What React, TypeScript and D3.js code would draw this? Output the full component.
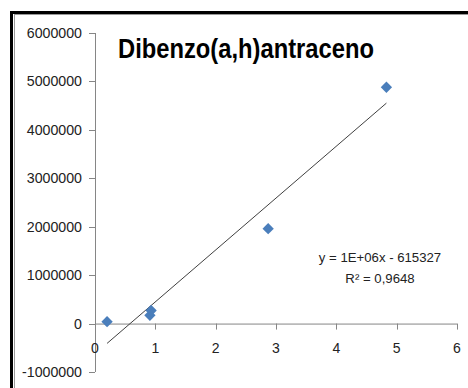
import React from "react";
import * as d3 from "d3";

const xValues = [0.2, 0.91, 0.93, 2.87, 4.83];
const yValues = [40000, 170000, 270000, 1960000, 4880000];
const xTicks = [0, 1, 2, 3, 4, 5, 6];
const yTicks = [-1000000, 0, 1000000, 2000000, 3000000, 4000000, 5000000, 6000000];
const title = "Dibenzo(a,h)antraceno";
const eqLabel = "y = 1E+06x - 615327";
const r2Label = "R² = 0,9648";

const W = 468;
const H = 388;

export default function App() {
  const x = d3.scaleLinear().domain([0, 6]).range([95, 457]);
  const y = d3.scaleLinear().domain([-1000000, 6000000]).range([372, 33]);

  const mx = d3.mean(xValues) as number;
  const my = d3.mean(yValues) as number;
  let sxx = 0, sxy = 0;
  xValues.forEach((v, i) => {
    sxx += (v - mx) * (v - mx);
    sxy += (v - mx) * (yValues[i] - my);
  });
  const slope = sxy / sxx;
  const intercept = my - slope * mx;
  const x0 = d3.min(xValues) as number;
  const x1 = d3.max(xValues) as number;
  const line = d3.line<number>()
    .x((d) => x(d))
    .y((d) => y(slope * d + intercept));

  const sym = d3.symbol().type(d3.symbolSquare).size(64)();
  const font = "'Liberation Sans', Arial, sans-serif";
  const axisColor = "#868686";

  return (
    <svg width={W} height={H} style={{ position: "absolute", left: 0, top: 0, background: "#fff" }}>
      <rect x={0} y={0} width={W} height={H} fill="#fff" />
      {/* frame */}
      <rect x={11.5} y={12.5} width={W + 20} height={H + 20} fill="none" stroke="#000" strokeWidth={3} />
      <line x1={14} x2={W} y1={14.5} y2={14.5} stroke="#999" strokeWidth={1} />
      <line x1={14.5} x2={14.5} y1={14} y2={H} stroke="#999" strokeWidth={1} />

      {/* y axis */}
      <line x1={x(0) + 0.5} x2={x(0) + 0.5} y1={y(6000000)} y2={y(-1000000)} stroke={axisColor} strokeWidth={1} />
      {yTicks.map((t) => (
        <g key={"y" + t}>
          <line x1={x(0) - 6} x2={x(0)} y1={Math.round(y(t)) + 0.5} y2={Math.round(y(t)) + 0.5} stroke={axisColor} />
          <text x={82} y={y(t) + 5} textAnchor="end" fontFamily={font} fontSize={14.2} fill="#222">
            {t}
          </text>
        </g>
      ))}

      {/* x axis */}
      <line x1={x(0)} x2={x(6)} y1={y(0) + 0.5} y2={y(0) + 0.5} stroke={axisColor} strokeWidth={1} />
      {xTicks.map((t) => (
        <g key={"x" + t}>
          <line x1={Math.round(x(t)) + 0.5} x2={Math.round(x(t)) + 0.5} y1={y(0)} y2={y(0) + 6} stroke={axisColor} />
          <text x={x(t)} y={353} textAnchor="middle" fontFamily={font} fontSize={14} fill="#222">
            {t}
          </text>
        </g>
      ))}

      {/* trend line */}
      <path d={line([x0, x1]) || ""} stroke="#404040" strokeWidth={1} fill="none" />

      {/* points */}
      {xValues.map((v, i) => (
        <path
          key={"p" + i}
          d={sym || ""}
          transform={`translate(${x(v)},${y(yValues[i])}) rotate(45)`}
          fill="#4a7ebb"
        />
      ))}

      {/* title */}
      <text x={118} y={58} fontFamily={font} fontWeight="bold" fontSize={27.5} fill="#000" textLength={256} lengthAdjust="spacingAndGlyphs">
        {title}
      </text>

      {/* equation */}
      <text x={380} y={262} textAnchor="middle" fontFamily={font} fontSize={13.2} fill="#222">
        {eqLabel}
      </text>
      <text x={380} y={283} textAnchor="middle" fontFamily={font} fontSize={13.2} fill="#222">
        {r2Label}
      </text>
    </svg>
  );
}
